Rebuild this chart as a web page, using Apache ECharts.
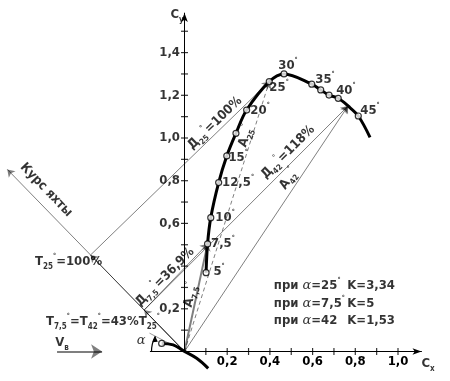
<!DOCTYPE html>
<html><head><meta charset="utf-8">
<script src="https://cdn.jsdelivr.net/npm/echarts@6/dist/echarts.min.js"></script>
<style>html,body{margin:0;padding:0;background:#fff}#c{width:450px;height:381px}</style>
</head><body><div id="c"></div>
<script>
// ---------------- data ----------------
const polarAlpha = [5, 7.5, 10, 12.5, 15, 17.5, 20, 25, 30, 32.5, 35, 37.5, 40, 42, 45, 47.5];
const polarCx = [0.101, 0.108, 0.123, 0.160, 0.198, 0.241, 0.291, 0.397, 0.466, 0.596, 0.638, 0.677, 0.720, 0.766, 0.814, 0.869];
const polarCy = [0.369, 0.504, 0.627, 0.791, 0.916, 1.022, 1.131, 1.264, 1.300, 1.252, 1.225, 1.201, 1.186, 1.150, 1.103, 1.003];
const circledAlpha = [5, 7.5, 10, 12.5, 15, 17.5, 20, 25, 30, 32.5, 35, 37.5, 40, 45];
const degreeLabels = ['5', '7,5', '10', '12,5', '15', '20', '25', '30', '35', '40', '45'];

const xTickValues = [0.1, 0.2, 0.3, 0.4, 0.5, 0.6, 0.7, 0.8, 0.9, 1.0];
const xLabelValues = [0.2, 0.4, 0.6, 0.8, 1.0];
const yTickValues = [0.1, 0.2, 0.3, 0.4, 0.5, 0.6, 0.7, 0.8, 0.9, 1.0, 1.1, 1.2, 1.3, 1.4, 1.5];
const yLabelValues = [0.2, 0.6, 0.8, 1.0, 1.2, 1.4];

const origin = [0, 0];
const courseEnd = [-0.830, 0.853];
const T25point = [-0.440, 0.452];
const T75point = [-0.189, 0.194];

const sailCx = [-0.107, -0.053, -0.006, 0.057, 0.111];
const sailCy = [0.038, 0.031, 0.004, -0.032, -0.079];
const chordEnd = [-0.164, 0.086];
const windFrom = [-0.597, 0];
const windTo = [-0.386, 0];

const kAlpha = ['25', '7,5', '42'];
const kValue = ['3,34', '5', '1,53'];

// ---------------- layout ----------------
const S = 213.5, OX = 184.5, OY = 351.5;
const XMIN = -0.16, XMAX = 1.11, YMIN = 0, YMAX = 1.585;
const F = "'Liberation Sans Narrow','DejaVu Sans Condensed','Roboto Condensed','Liberation Sans',sans-serif";

const rich = {
  m: {fontFamily: F, fontWeight: 'bold', fontSize: 13, color: '#000', lineHeight: 18, verticalAlign: 'middle'},
  s: {fontFamily: F, fontWeight: 'bold', fontSize: 8, color: '#000', lineHeight: 18, verticalAlign: 'bottom'},
  u: {fontFamily: F, fontWeight: 'bold', fontSize: 7, color: '#000', lineHeight: 18, verticalAlign: 'top'},
  g: {fontFamily: 'DejaVu Serif', fontStyle: 'italic', fontSize: 13, color: '#000', lineHeight: 18, verticalAlign: 'middle'}
};

const pt = a => { const i = polarAlpha.indexOf(a); return [polarCx[i], polarCy[i]]; };

const degreePos = {
  '5': [0.162, 0.372], '7,5': [0.180, 0.504], '10': [0.190, 0.625], '12,5': [0.251, 0.789],
  '15': [0.251, 0.906], '20': [0.354, 1.126], '25': [0.443, 1.234], '30': [0.485, 1.337],
  '35': [0.658, 1.272], '40': [0.756, 1.220], '45': [0.869, 1.126]
};

function ann(p, text, opt) {
  return {value: p, label: Object.assign({show: true, position: 'inside', align: 'center', verticalAlign: 'middle', formatter: () => text, rich: rich}, opt || {})};
}
const fmt = v => (Math.round(v * 10) / 10).toFixed(1).replace('.', ',');

const annotations = [];
degreeLabels.forEach(d => annotations.push(ann(degreePos[d], '{m|' + d + '}{u|°}')));
yLabelValues.forEach(v => annotations.push(ann([0, v], '{m|' + fmt(v) + '}', {position: 'left', distance: 4, align: 'right'})));
annotations.push(ann([-0.035, 1.576], '{m|C}{s|y}'));
annotations.push(ann([1.141, -0.059], '{m|C}{s|x}'));
annotations.push(ann([0.143, 1.070], '{m|Д}{s|25}{u|°}{m|=100%}', {rotate: 44}));
annotations.push(ann([0.288, 1.009], '{m|A}{s|25}{u|°}', {rotate: 72}));
annotations.push(ann([0.485, 0.934], '{m|Д}{s|42}{u|°}{m|=118%}', {rotate: 45}));
annotations.push(ann([0.489, 0.808], '{m|A}{s|42}{u|°}', {rotate: 55}));
annotations.push(ann([-0.091, 0.349], '{m|Д}{s|7,5}{u|°}{m|=36,9%}', {rotate: 45}));
annotations.push(ann([0.030, 0.265], '{m|A}{s|7,5}{u|°}', {rotate: 78}));
annotations.push(ann([-0.543, 0.419], '{m|T}{s|25}{u|°}{m|=100%}'));
annotations.push(ann([-0.382, 0.138], '{m|T}{s|7,5}{u|°}{m|=T}{s|42}{u|°}{m|=43%T}{s|25}{u|°}'));
annotations.push(ann([-0.574, 0.040], '{m|V}{s|в}'));
annotations.push(ann([-0.203, 0.049], '{g|α}'));
annotations.push(ann([-0.648, 0.757], '{m|Курс яхты}', {rotate: -46}));
const kRowsY = [0.308, 0.226, 0.143];
kAlpha.forEach((a, i) => {
  annotations.push(ann([0.416, kRowsY[i]], '{m|при }{g|α}{m|=' + a + '}' + (i < 2 ? '{u|°}' : ''), {position: 'right', distance: 0, align: 'left'}));
  annotations.push(ann([0.760, kRowsY[i]], '{m|K=' + kValue[i] + '}', {position: 'right', distance: 0, align: 'left'}));
});

const thin = {color: '#000', width: 1};
const vectors = [
  {coords: [origin, courseEnd], lineStyle: thin},
  {coords: [origin, T25point], lineStyle: thin},
  {coords: [origin, T75point], lineStyle: thin},
  {coords: [T25point, pt(25)], lineStyle: thin},
  {coords: [T75point, pt(7.5)], lineStyle: thin},
  {coords: [T75point, pt(42)], lineStyle: thin},
  {coords: [origin, pt(25)], lineStyle: {color: '#000', width: 1, type: [4, 3]}},
  {coords: [origin, pt(42)], lineStyle: thin},
  {coords: [origin, pt(7.5)], lineStyle: {color: '#000', width: 2}},
  {coords: [origin, chordEnd], lineStyle: {color: '#000', width: 0.8}, symbol: ['none', 'none']}
];

const chart = echarts.init(document.getElementById('c'), null, {renderer: 'canvas'});
const axisLabelStyle = {fontFamily: F, fontWeight: 'bold', fontSize: 13, color: '#000', formatter: fmt};

chart.setOption({
  backgroundColor: '#fff',
  animation: false,
  grid: {left: OX + XMIN * S, width: (XMAX - XMIN) * S, top: OY - YMAX * S, height: (YMAX - YMIN) * S, containLabel: false},
  xAxis: {
    type: 'value', min: XMIN, max: XMAX,
    axisLine: {show: true, onZero: true, symbol: ['none', 'arrow'], symbolSize: [5, 9], lineStyle: {color: '#000', width: 1}},
    axisTick: {show: false}, splitLine: {show: false},
    axisLabel: Object.assign({customValues: xLabelValues, margin: 4}, axisLabelStyle)
  },
  yAxis: {
    type: 'value', min: YMIN, max: YMAX,
    axisLine: {show: true, onZero: true, symbol: ['none', 'arrow'], symbolSize: [5, 9], lineStyle: {color: '#000', width: 1}},
    axisTick: {show: false}, splitLine: {show: false},
    axisLabel: {show: false}
  },
  series: [
    {type: 'scatter', silent: true, symbol: 'rect', symbolSize: [1.2, 7], itemStyle: {color: '#000'},
     data: xTickValues.map(v => [v, 0]), clip: false, z: 3},
    {type: 'scatter', silent: true, symbol: 'rect', symbolSize: [7, 1.2], itemStyle: {color: '#000'},
     data: yTickValues.map(v => [0, v]), clip: false, z: 3},
    {type: 'lines', coordinateSystem: 'cartesian2d', silent: true, clip: false, z: 4,
     symbol: ['none', 'arrow'], symbolSize: 7, data: vectors},
    {type: 'lines', coordinateSystem: 'cartesian2d', silent: true, clip: false, z: 4,
     symbol: ['none', 'arrow'], symbolSize: 11, lineStyle: {color: '#000', width: 2},
     data: [{coords: [windFrom, windTo]}]},
    {type: 'line', silent: true, clip: false, smooth: 0.35, showSymbol: false, z: 5,
     lineStyle: {color: '#000', width: 3}, data: polarCx.map((x, i) => [x, polarCy[i]])},
    {type: 'line', silent: true, clip: false, smooth: 0.4, showSymbol: false, z: 5,
     lineStyle: {color: '#000', width: 3}, data: sailCx.map((x, i) => [x, sailCy[i]])},
    {type: 'scatter', silent: true, clip: false, z: 6, symbol: 'circle', symbolSize: 6,
     itemStyle: {color: '#fff', borderColor: '#000', borderWidth: 1.2},
     data: circledAlpha.map(pt).concat([[sailCx[0], sailCy[0]]])},
    {type: 'scatter', silent: true, clip: false, z: 7, symbolSize: 1, itemStyle: {color: 'rgba(0,0,0,0)'},
     data: annotations}
  ]
});

// angle arc for alpha (between wind direction and sail chord)
const c0 = chart.convertToPixel({xAxisIndex: 0, yAxisIndex: 0}, origin);
const ce = chart.convertToPixel({xAxisIndex: 0, yAxisIndex: 0}, chordEnd);
const chordAng = Math.atan2(ce[1] - c0[1], ce[0] - c0[0]) + 2 * Math.PI;
const R = 33;
const tip = [c0[0] + R * Math.cos(chordAng), c0[1] + R * Math.sin(chordAng)];
chart.setOption({graphic: [
  {type: 'arc', silent: true, z: 100,
   shape: {cx: c0[0], cy: c0[1], r: R, startAngle: Math.PI, endAngle: chordAng, clockwise: true},
   style: {stroke: '#000', lineWidth: 1.2, fill: null}},
  {type: 'polygon', silent: true, z: 100,
   shape: {points: [[tip[0], tip[1]], [tip[0] - 3, tip[1] + 6], [tip[0] + 2.5, tip[1] + 5.5]]},
   style: {fill: '#000'}}
]});
</script>
</body></html>
